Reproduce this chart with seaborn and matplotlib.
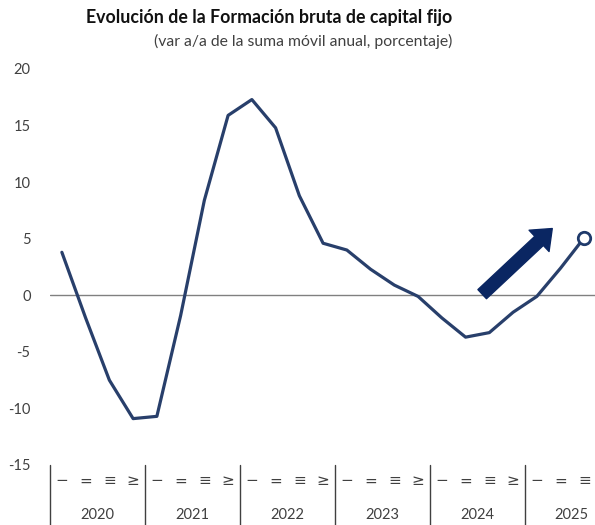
import matplotlib
matplotlib.use('Agg')
import matplotlib.pyplot as plt
import matplotlib.transforms as mtransforms
import seaborn as sns
import pandas as pd

# Chart data: quarterly values 2020 Q1 .. 2025 Q3
years = ['2020', '2021', '2022', '2023', '2024', '2025']
quarter_labels = ['−', '=', '≡', '≥']
values = [3.8, -2.0, -7.5, -10.9, -10.7, -1.8, 8.4, 15.9,
          17.3, 14.8, 8.8, 4.6, 4.0, 2.3, 0.9, -0.1,
          -2.0, -3.7, -3.3, -1.5, -0.1, 2.4, 5.1]
y_ticks = [-15, -10, -5, 0, 5, 10, 15, 20]

df = pd.DataFrame({'idx': range(len(values)), 'valor': values})

sns.set_theme(style='white')
plt.rcParams['font.family'] = ['Lato', 'DejaVu Sans']

line_color = '#283F6B'
text_color = '#404040'

fig = plt.figure(figsize=(5.95, 5.25), dpi=100)
ax = fig.add_axes([50 / 595, 60 / 525, 545 / 595, 396 / 525])

sns.lineplot(data=df, x='idx', y='valor', color=line_color, linewidth=2.3, ax=ax)
last = df.iloc[[-1]]
ax.scatter(last['idx'], last['valor'], s=80, facecolor='white', edgecolor='#1F3A6B',
           linewidth=2, zorder=5, clip_on=False)

# zero line
ax.axhline(0, color='#808080', linewidth=1, zorder=1)

# trend arrow
ax.annotate('', xy=(20.65, 5.9), xytext=(17.7, 0.1),
            arrowprops=dict(width=9, headwidth=21, headlength=13,
                            color='#0A2662', shrink=0))

ax.set_xlim(-0.5, 22.45)
ax.set_ylim(-15, 20)
ax.set_yticks(y_ticks)
ax.set_yticklabels([str(t) for t in y_ticks], fontsize=10.5, color=text_color)
ax.tick_params(axis='y', length=0, pad=14)

# quarter labels
qpos = list(range(len(values)))
qlab = [quarter_labels[i % 4] for i in qpos]
ax.set_xticks(qpos)
ax.set_xticklabels(qlab, fontsize=11, color=text_color, family=['DejaVu Sans'])
ax.tick_params(axis='x', length=0, pad=6)
ax.set_xlabel('')
ax.set_ylabel('')

for s in ax.spines.values():
    s.set_visible(False)

trans = mtransforms.blended_transform_factory(ax.transData, ax.transAxes)
for i, yr in enumerate(years):
    start = i * 4 - 0.5
    ax.plot([start, start], [0, -60 / 396], transform=trans, color='#404040',
            linewidth=1, clip_on=False)
    n_q = min(4, len(values) - i * 4)
    ax.text(i * 4 + (n_q - 1) / 2 if n_q == 4 else i * 4 + 1.45, -50 / 396, yr,
            transform=trans, ha='center', va='center', fontsize=10.5, color=text_color)

fig.text(0.452, 1 - 18 / 525, 'Evolución de la Formación bruta de capital fijo',
         ha='center', va='center', fontsize=12.8, fontweight='bold', color='#111111')
fig.text(0.51, 1 - 41 / 525, '(var a/a de la suma móvil anual, porcentaje)',
         ha='center', va='center', fontsize=11.3, color=text_color)

fig.savefig('out.png', dpi=100)
